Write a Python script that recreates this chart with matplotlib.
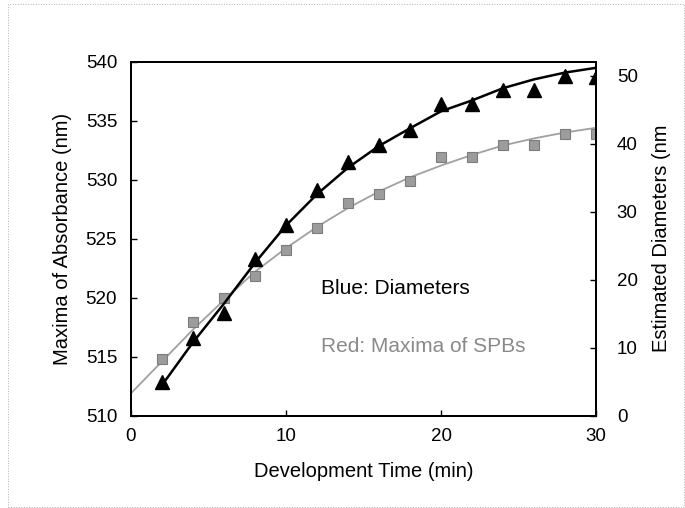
import matplotlib
matplotlib.use('Agg')
import matplotlib.pyplot as plt
from matplotlib.patches import Rectangle

plt.rcParams['font.family'] = ['Liberation Sans', 'DejaVu Sans']

time_min = [2, 4, 6, 8, 10, 12, 14, 16, 18, 20, 22, 24, 26, 28, 30]
abs_max = [514.8, 517.9, 520.0, 521.8, 524.0, 525.9, 528.0, 528.8, 529.9,
           531.9, 531.9, 532.9, 532.9, 533.9, 533.9]
diameters = [5.0, 11.4, 15.1, 23.1, 28.1, 33.2, 37.4, 39.9, 42.0,
             45.9, 45.9, 48.0, 48.0, 50.0, 49.8]

# trend curves
abs_curve_x = [0, 2, 4, 6, 8, 10, 12, 14, 16, 18, 20, 22, 24, 26, 28, 30]
abs_curve = [511.9, 514.6, 517.3, 519.8, 522.2, 524.2, 526.0, 527.6, 529.0,
             530.2, 531.2, 532.1, 532.9, 533.5, 534.0, 534.4]
dia_curve = [4.5, 10.8, 16.5, 22.5, 28.0, 32.6, 36.5, 39.7, 42.3,
             44.8, 46.4, 48.2, 49.5, 50.5, 51.2]

x_ticks = [0, 10, 20, 30]
left_ticks = [510, 515, 520, 525, 530, 535, 540]
right_ticks = [0, 10, 20, 30, 40, 50]

fig = plt.figure(figsize=(6.85, 5.08), dpi=100)
fig.patches.append(Rectangle((8 / 685, 0.002), 676 / 685, 0.99, transform=fig.transFigure,
                             fill=False, edgecolor='#b0b0b0', linewidth=0.7, linestyle=':'))

ax = fig.add_axes([131 / 685, 1 - 415.7 / 508, 465 / 685, 354 / 508])
ax2 = ax.twinx()

ax.plot(abs_curve_x, abs_curve, color='#a0a0a0', lw=1.3, zorder=2)
ax.plot(time_min, abs_max, 's', ms=7, mfc='#9c9c9c', mec='#7c7c7c', mew=0.8, zorder=3)
ax2.plot(time_min, dia_curve, color='black', lw=1.8, zorder=2)
ax2.plot(time_min, diameters, '^', ms=10.5, color='black', zorder=3)

ax.set_xlim(0, 30)
ax.set_ylim(510, 540)
ax2.set_ylim(0, 52.1)
ax.set_xticks(x_ticks)
ax.set_yticks(left_ticks)
ax2.set_yticks(right_ticks)

for a in (ax, ax2):
    for s in a.spines.values():
        s.set_linewidth(1.4)
        s.set_color('black')
    a.tick_params(direction='in', length=4, width=1, labelsize=13.5, colors='black')
ax.tick_params(axis='x', pad=9)
ax.tick_params(axis='y', pad=10)
ax2.tick_params(axis='y', pad=15)

ax.set_xlabel('Development Time (min)', fontsize=14.5, labelpad=12)
ax.set_ylabel('Maxima of Absorbance (nm)', fontsize=14.5, labelpad=10)
ax2.set_ylabel('Estimated Diameters (nm', fontsize=14.5, labelpad=10)

ax.text(321, 508 - 289, 'Blue: Diameters', transform=None, fontsize=15, color='black',
        va='center', ha='left')
ax.text(321, 508 - 347, 'Red: Maxima of SPBs', transform=None, fontsize=15, color='#8a8a8a',
        va='center', ha='left')

fig.savefig('out.png', dpi=100)
